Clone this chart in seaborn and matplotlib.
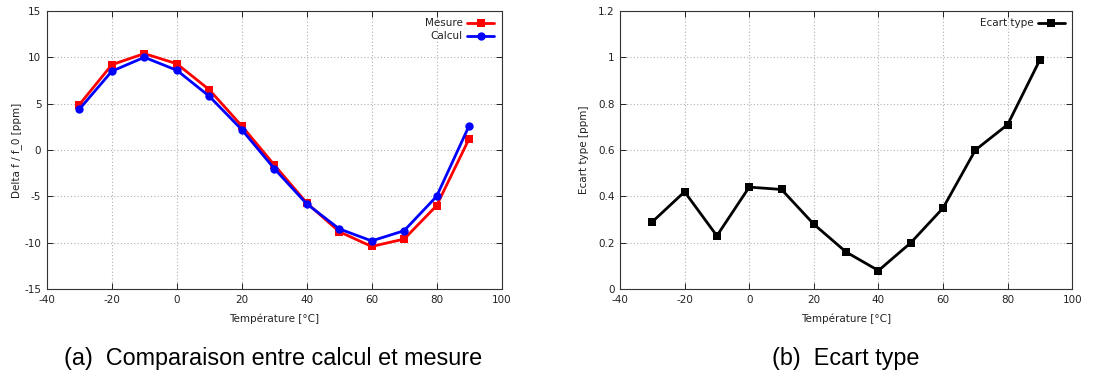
import numpy as np
import pandas as pd
import seaborn as sns
import matplotlib.pyplot as plt

# ---------------------------
# Data
# ---------------------------

temperature = [-30, -20, -10, 0, 10, 20, 30, 40, 50, 60, 70, 80, 90]
mesure = [4.9, 9.2, 10.4, 9.3, 6.5, 2.6, -1.6, -5.7, -8.8, -10.4, -9.6, -6.0, 1.2]
calcul = [4.4, 8.5, 10.0, 8.6, 5.8, 2.2, -2.0, -5.8, -8.5, -9.8, -8.7, -5.0, 2.6]
ecart_type = [0.29, 0.42, 0.23, 0.44, 0.43, 0.28, 0.16, 0.08, 0.20, 0.35, 0.60, 0.71, 0.99]

df_a = pd.DataFrame({
    "Température": temperature * 2,
    "valeur": mesure + calcul,
    "serie": ["Mesure"] * len(mesure) + ["Calcul"] * len(calcul),
})
df_b = pd.DataFrame({"Température": temperature, "Ecart type": ecart_type})

# ---------------------------
# Style
# ---------------------------

sns.set_theme(style="ticks")
plt.rcParams["font.family"] = ["DejaVu Sans"]
plt.rcParams["axes.unicode_minus"] = False
plt.rcParams["text.color"] = "#222222"
plt.rcParams["axes.labelcolor"] = "#222222"
plt.rcParams["xtick.color"] = "#222222"
plt.rcParams["ytick.color"] = "#222222"

fig = plt.figure(figsize=(11.17, 3.76), dpi=100)
ax1 = fig.add_axes([0.042, 0.231, 0.407, 0.740])
ax2 = fig.add_axes([0.555, 0.231, 0.405, 0.740])


def gnuplot_axes(ax):
    ax.grid(True, linestyle=(0, (1, 2)), color="#b0b0b0", linewidth=0.8)
    ax.tick_params(direction="in", top=True, right=True, labelsize=7.5,
                   length=4, width=0.7, pad=4)
    for s in ax.spines.values():
        s.set_linewidth(0.8)
        s.set_color("#333333")
    ax.set_axisbelow(True)


# ---------------------------
# (a) Comparaison
# ---------------------------

sns.lineplot(data=df_a, x="Température", y="valeur", hue="serie", style="serie",
             markers={"Mesure": "s", "Calcul": "o"}, dashes=False,
             palette={"Mesure": "#ff0000", "Calcul": "#0000ff"},
             linewidth=2, markersize=6, markeredgewidth=0, ax=ax1)
ax1.set_xlim(-40, 100)
ax1.set_ylim(-15, 15)
ax1.set_xticks(range(-40, 101, 20))
ax1.set_yticks(range(-15, 16, 5))
ax1.set_xlabel("Température [°C]", fontsize=7.5, labelpad=6)
ax1.set_ylabel("Delta f / f_0 [ppm]", fontsize=7.5, labelpad=2)
gnuplot_axes(ax1)
h, l = ax1.get_legend_handles_labels()
ax1.legend(h, l, loc="upper right", frameon=False, markerfirst=False,
           fontsize=7.5, handlelength=2.6, borderaxespad=0.3,
           labelspacing=0.3, handletextpad=0.4)

# ---------------------------
# (b) Ecart type
# ---------------------------

sns.lineplot(data=df_b, x="Température", y="Ecart type", color="black",
             marker="s", linewidth=2, markersize=6, markeredgewidth=0,
             label="Ecart type", ax=ax2)
ax2.set_xlim(-40, 100)
ax2.set_ylim(0, 1.2)
ax2.set_xticks(range(-40, 101, 20))
ax2.set_yticks(np.arange(0, 1.21, 0.2))
ax2.set_yticklabels(["0", "0.2", "0.4", "0.6", "0.8", "1", "1.2"])
ax2.set_xlabel("Température [°C]", fontsize=7.5, labelpad=6)
ax2.set_ylabel("Ecart type [ppm]", fontsize=7.5, labelpad=6)
gnuplot_axes(ax2)
ax2.legend(loc="upper right", frameon=False, markerfirst=False,
           fontsize=7.5, handlelength=2.6, borderaxespad=0.3,
           handletextpad=0.4)

# ---------------------------
# Captions
# ---------------------------

fig.text(273 / 1117, 1 - 358 / 376, "(a)  Comparaison entre calcul et mesure",
         ha="center", va="center", fontsize=16.8, family="Liberation Sans",
         color="black")
fig.text(846 / 1117, 1 - 358 / 376, "(b)  Ecart type",
         ha="center", va="center", fontsize=16.8, family="Liberation Sans",
         color="black")

fig.savefig("out.png", dpi=100)
